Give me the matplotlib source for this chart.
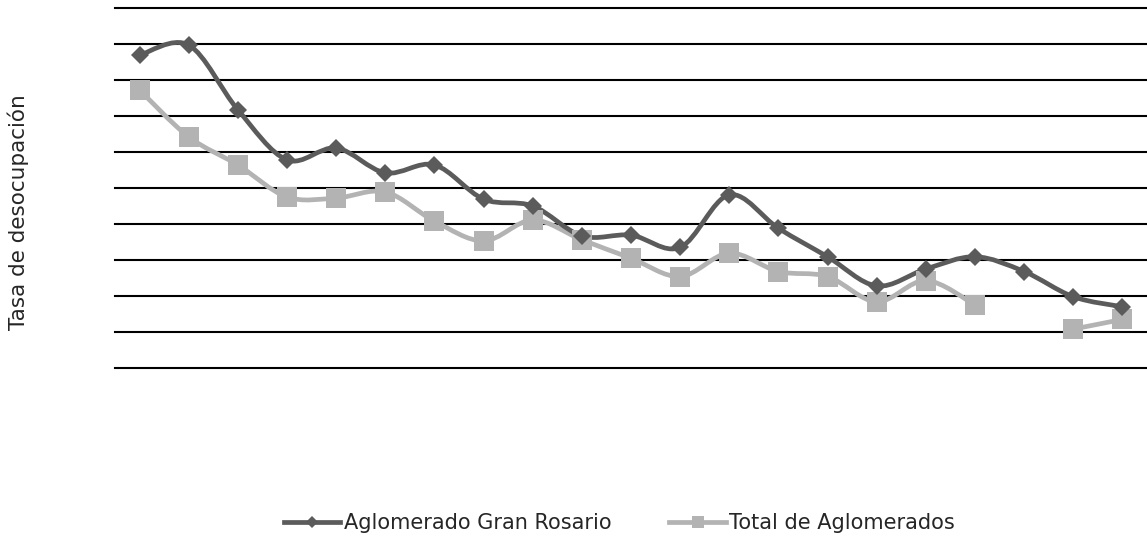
import numpy as np
import matplotlib
matplotlib.use("Agg")
import matplotlib.pyplot as plt
from matplotlib.path import Path
from matplotlib.patches import PathPatch
from matplotlib.lines import Line2D

# unemployment rate per period (21 periods)
rosario = [8.69, 8.97, 7.17, 5.78, 6.11, 5.42, 5.64, 4.69, 4.50, 3.67, 3.69,
           3.35, 4.81, 3.88, 3.09, 2.28, 2.75, 3.09, 2.68, 1.98, 1.70]
total = [7.72, 6.42, 5.64, 4.75, 4.72, 4.89, 4.08, 3.53, 4.11, 3.56, 3.05,
         2.54, 3.19, 2.68, 2.54, 1.84, 2.43, 1.75, None, 1.08, 1.35]
series_names = ["Aglomerado Gran Rosario", "Total de Aglomerados"]

dark = "#5b5b5b"
light = "#b3b3b3"

plt.rcParams["font.family"] = ["DejaVu Sans"]


def smooth_path(ys):
    # excel-like smoothed line: cubic bezier through the points, split at gaps
    verts, codes = [], []
    seg = []
    segs = []
    for i, v in enumerate(ys):
        if v is None:
            if seg:
                segs.append(seg)
            seg = []
        else:
            seg.append((i, v))
    if seg:
        segs.append(seg)
    for s in segs:
        if len(s) < 2:
            continue
        p = np.array(s, dtype=float)
        n = len(p)
        verts.append(p[0]); codes.append(Path.MOVETO)
        for k in range(n - 1):
            p0 = p[k - 1] if k > 0 else p[k]
            p3 = p[k + 2] if k + 2 < n else p[k + 1]
            c1 = p[k] + (p[k + 1] - p0) / 6.0
            c2 = p[k + 1] - (p3 - p[k]) / 6.0
            verts += [c1, c2, p[k + 1]]
            codes += [Path.CURVE4] * 3
    return Path(verts, codes)


fig = plt.figure(figsize=(11.47, 5.43), dpi=100)
ax = fig.add_axes([0.1003, 0.3223, 0.8997, 0.663])

x = np.arange(len(rosario))
tot = np.array([np.nan if v is None else v for v in total])

ax.add_patch(PathPatch(smooth_path(total), facecolor="none", edgecolor=light,
                       lw=3.4, capstyle="round", joinstyle="round", zorder=3))
ax.add_patch(PathPatch(smooth_path(rosario), facecolor="none", edgecolor=dark,
                       lw=3.4, capstyle="round", joinstyle="round", zorder=4))
ax.plot(x, tot, ls="none", marker="s", ms=14, mew=0, color=light, zorder=5)
ax.plot(x, rosario, ls="none", marker="D", ms=9.5, mew=0, color=dark, zorder=6)

ax.set_xlim(-0.5, len(rosario) - 0.5)
ax.set_ylim(0, 10)
ax.set_yticks(np.arange(0, 11, 1))
ax.set_xticks([])
ax.grid(axis="y", color="black", lw=1.5)
for gl in ax.get_ygridlines():
    gl.set_clip_on(False)
ax.set_axisbelow(True)
ax.tick_params(left=False, labelleft=False)
for sp in ax.spines.values():
    sp.set_visible(False)

fig.text(0.016, 0.609, "Tasa de desocupación", rotation=90, ha="center",
         va="center", fontsize=15.5, color="#262626")

handles = [
    Line2D([], [], color=dark, lw=3.4, marker="D", ms=6, mew=0),
    Line2D([], [], color=light, lw=3.4, marker="s", ms=9, mew=0),
]
fig.legend(handles, series_names, loc="center", bbox_to_anchor=(0.540, 0.037),
           ncol=2, frameon=False, fontsize=15, handlelength=2.7,
           handletextpad=0.15, columnspacing=2.8, labelcolor="#262626")

fig.savefig("out.png", dpi=100)
